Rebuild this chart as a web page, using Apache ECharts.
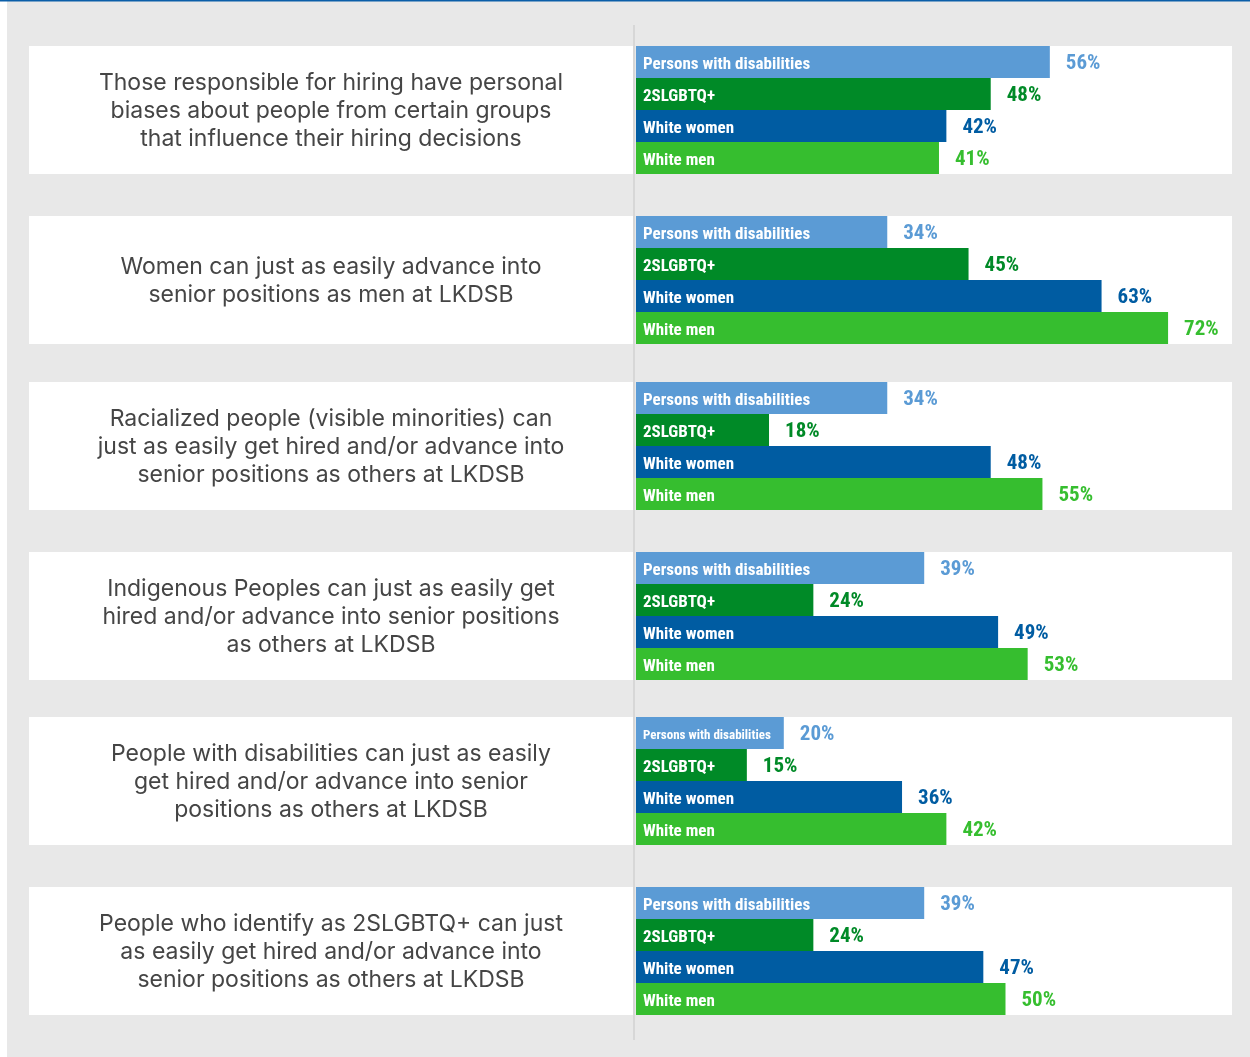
<!DOCTYPE html>
<html>
<head>
<meta charset="utf-8">
<script src="https://cdn.jsdelivr.net/npm/echarts@6/dist/echarts.min.js"></script>
<style>
html,body{margin:0;padding:0;background:#fff;}
#main{width:1250px;height:1057px;}
</style>
</head>
<body>
<div id="main"></div>
<script>
// ---- data ----
var groups = ['Persons with disabilities', '2SLGBTQ+', 'White women', 'White men'];
var questions = [
  'Those responsible for hiring have personal\nbiases about people from certain groups\nthat influence their hiring decisions',
  'Women can just as easily advance into\nsenior positions as men at LKDSB',
  'Racialized people (visible minorities) can\njust as easily get hired and/or advance into\nsenior positions as others at LKDSB',
  'Indigenous Peoples can just as easily get\nhired and/or advance into senior positions\nas others at LKDSB',
  'People with disabilities can just as easily\nget hired and/or advance into senior\npositions as others at LKDSB',
  'People who identify as 2SLGBTQ+ can just\nas easily get hired and/or advance into\nsenior positions as others at LKDSB'
];
var q1Values = [56, 48, 42, 41];
var q2Values = [34, 45, 63, 72];
var q3Values = [34, 18, 48, 55];
var q4Values = [39, 24, 49, 53];
var q5Values = [20, 15, 36, 42];
var q6Values = [39, 24, 47, 50];
var allValues = [q1Values, q2Values, q3Values, q4Values, q5Values, q6Values];

// ---- styling ----
var colors = ['#5b9bd5', '#008a27', '#005ca2', '#36be2f'];
var condensed = "'Roboto Condensed', 'Liberation Sans Narrow', 'Arial Narrow', 'DejaVu Sans Condensed', Roboto, sans-serif";
var panelTops = [46, 216, 382, 552, 717, 887];
var panelH = 128;
var gridLeft = 636, gridRight = 18;
var xMax = 80.65;

var grids = [], xAxes = [], yAxes = [], series = [], graphics = [];

graphics.push({type: 'rect', left: 0, top: 0, shape: {x: 0, y: 0, width: 7, height: 1057}, style: {fill: '#ffffff'}, silent: true});
graphics.push({type: 'rect', left: 0, top: 0, shape: {x: 0, y: 0, width: 1250, height: 1.5}, style: {fill: '#0a5ea8'}, silent: true});
graphics.push({type: 'rect', left: 633, top: 25, shape: {x: 0, y: 0, width: 2, height: 1015}, style: {fill: '#d7d7d7'}, silent: true});

allValues.forEach(function (vals, i) {
  var top = panelTops[i];
  var smallFirst = (i === 4);
  grids.push({left: gridLeft, right: gridRight, top: top, height: panelH, show: true, backgroundColor: '#ffffff', borderWidth: 0, containLabel: false});
  xAxes.push({type: 'value', gridIndex: i, min: 0, max: xMax, show: false});
  yAxes.push({
    type: 'category', gridIndex: i, inverse: true, z: 10,
    data: groups,
    axisLine: {show: false}, axisTick: {show: false}, splitLine: {show: false},
    axisLabel: {
      inside: true, margin: 7,
      formatter: function (v, idx) {
        return (smallFirst && idx === 0 ? '{s|' : '{n|') + v + '}';
      },
      rich: {
        n: {color: '#ffffff', fontWeight: 'bold', fontSize: 17, fontFamily: condensed, padding: [6, 0, 0, 0]},
        s: {color: '#ffffff', fontWeight: 'bold', fontSize: 13, fontFamily: condensed, padding: [6, 0, 0, 0]}
      }
    }
  });
  series.push({
    type: 'bar', xAxisIndex: i, yAxisIndex: i, barCategoryGap: 0,
    data: vals.map(function (v, k) {
      return {value: v, itemStyle: {color: colors[k]}, label: {color: colors[k]}};
    }),
    label: {show: true, position: 'right', distance: 16, offset: [0, 2], fontFamily: condensed, fontWeight: 'bold', fontSize: 21, formatter: '{c}%'},
    silent: true, animation: false
  });
  graphics.push({type: 'rect', left: 29, top: top, shape: {x: 0, y: 0, width: 604, height: panelH}, style: {fill: '#ffffff'}, silent: true});
  graphics.push({
    type: 'text', x: 331, y: top + panelH / 2 + 1,
    style: {text: questions[i], fill: '#454545', font: "23px Inter, 'Noto Sans', sans-serif", textAlign: 'center', textVerticalAlign: 'middle', lineHeight: 28},
    silent: true
  });
});

var chart = echarts.init(document.getElementById('main'), null, {renderer: 'canvas'});
chart.setOption({
  backgroundColor: '#e8e8e8',
  animation: false,
  grid: grids, xAxis: xAxes, yAxis: yAxes, series: series, graphic: graphics
});
</script>
</body>
</html>
